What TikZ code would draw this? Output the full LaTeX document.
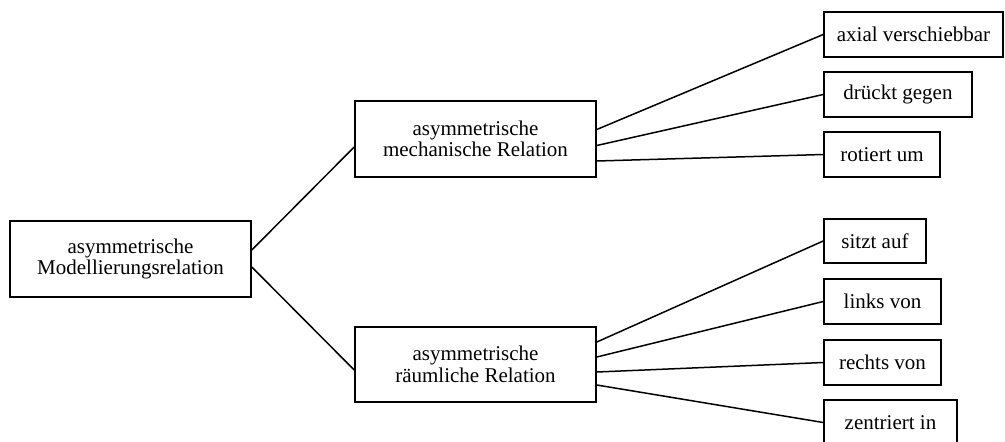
\documentclass[tikz,border=0pt]{standalone}
\usepackage{fontspec}
\setmainfont{Liberation Serif}
\begin{document}
\begin{tikzpicture}[x=1pt,y=-1pt,
  box/.style={draw,line width=1.6pt,rectangle,inner sep=0pt,align=center,
    font=\fontsize{21}{21.5}\selectfont},
  link/.style={line width=1.5pt}]
\useasboundingbox (0,0) rectangle (1005,442);
% root and the two relation classes
\node[box,minimum width=241,minimum height=76] (root) at (130.5,259) {asymmetrische\\Modellierungsrelation};
\node[box,minimum width=241,minimum height=76] (mech) at (475.5,139) {asymmetrische\\mechanische Relation};
\node[box,minimum width=241,minimum height=75] (raum) at (475.5,364.5) {asymmetrische\\räumliche Relation};
% mechanical relations
\node[box,minimum width=179,minimum height=45] (axial) at (913.5,34.5) {axial verschiebbar};
\node[box,minimum width=148,minimum height=45] (drueckt) at (898,94.5) {drückt gegen};
\node[box,minimum width=116,minimum height=45] (rotiert) at (882,154.5) {rotiert um};
% spatial relations
\node[box,minimum width=102,minimum height=44] (sitzt) at (875,241) {sitzt auf};
\node[box,minimum width=117,minimum height=45] (links) at (882.5,301.5) {links von};
\node[box,minimum width=117,minimum height=45] (rechts) at (882.5,362.5) {rechts von};
\node[box,minimum width=133,minimum height=45] (zentriert) at (890.5,422.5) {zentriert in};
% connectors (yshift is in pt, positive = upwards)
\draw[link] ([yshift=9]root.east) -- ([yshift=-8]mech.west);
\draw[link] ([yshift=-8]root.east) -- ([yshift=-5.5]raum.west);
\draw[link] ([yshift=9.5]mech.east) -- (axial.west);
\draw[link] ([yshift=-6.5]mech.east) -- (drueckt.west);
\draw[link] ([yshift=-22]mech.east) -- (rotiert.west);
\draw[link] ([yshift=22.5]raum.east) -- (sitzt.west);
\draw[link] ([yshift=7.5]raum.east) -- (links.west);
\draw[link] ([yshift=-7.5]raum.east) -- (rechts.west);
\draw[link] ([yshift=-20.5]raum.east) -- (zentriert.west);
\end{tikzpicture}
\end{document}
